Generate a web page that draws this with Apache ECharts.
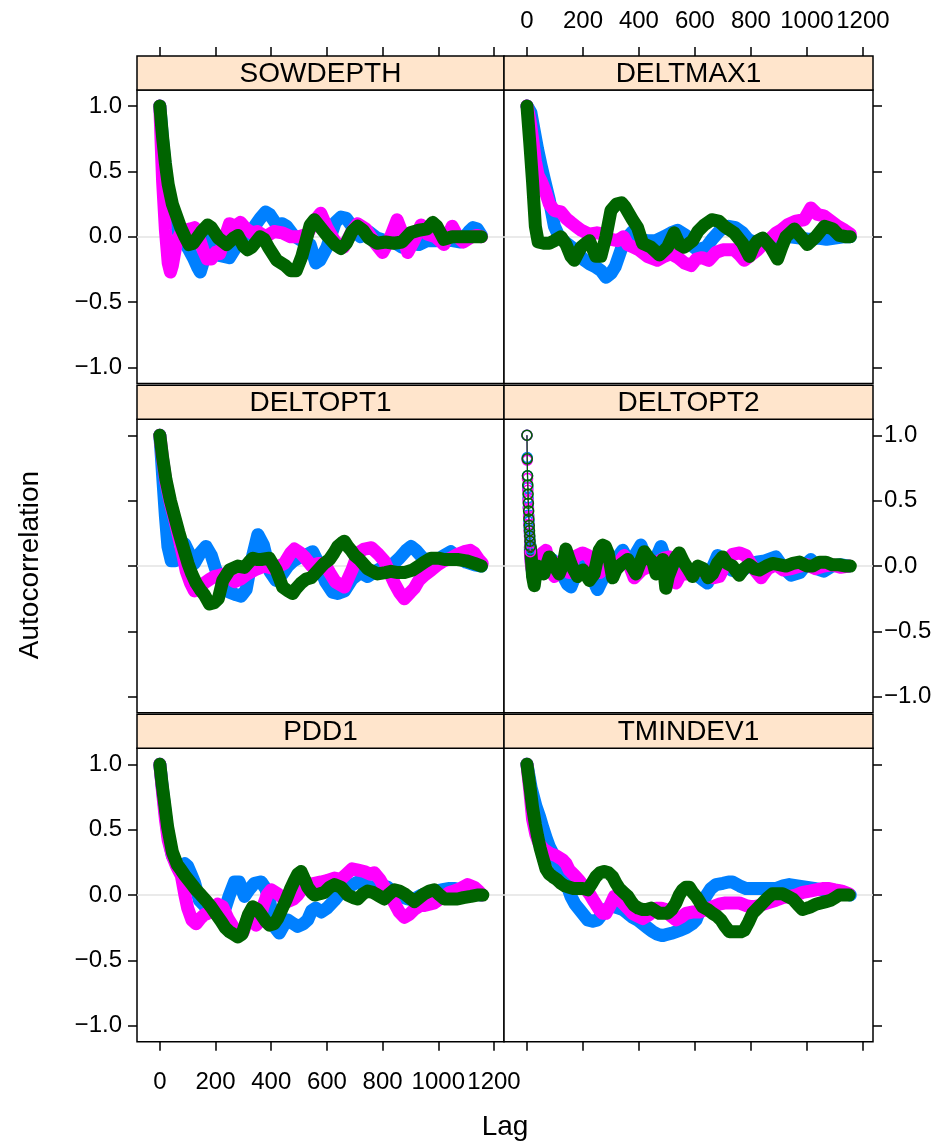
<!DOCTYPE html>
<html><head><meta charset="utf-8">
<script src="https://cdn.jsdelivr.net/npm/echarts@6/dist/echarts.min.js"></script>
<style>html,body{margin:0;padding:0;background:#fff}#c{width:952px;height:1144px}</style>
</head><body><div id="c"></div>
<script>
// ---------------- data (lag, autocorrelation) ----------------
const PANELS = ['SOWDEPTH', 'DELTMAX1', 'DELTOPT1', 'DELTOPT2', 'PDD1', 'TMINDEV1'];
const X_TICKS = [0, 200, 400, 600, 800, 1000, 1200];
const Y_TICKS = [-1, -0.5, 0, 0.5, 1];
const COLORS = ['#0080ff', '#ff00ff', '#006400'];

const SOW_BLUE = [[0,1.0],[10,0.74],[20,0.52],[30,0.36],[45,0.2],[60,0.06],[75,0.0],[90,-0.05],[105,-0.1],[120,-0.16],[135,-0.23],[145,-0.27],[155,-0.2],[165,-0.08],[175,-0.02],[190,-0.06],[210,-0.14],[230,-0.15],[250,-0.16],[270,-0.09],[300,0.0],[330,0.05],[360,0.14],[380,0.19],[395,0.17],[420,0.09],[440,0.1],[455,0.08],[480,0.01],[510,-0.03],[540,-0.06],[560,-0.2],[575,-0.18],[600,-0.08],[630,0.11],[650,0.15],[670,0.14],[690,0.08],[720,0.0],[750,0.04],[780,-0.01],[810,-0.03],[840,-0.04],[870,-0.08],[900,-0.05],[930,-0.06],[960,-0.03],[990,-0.03],[1020,-0.01],[1050,-0.03],[1080,-0.04],[1110,0.04],[1125,0.07],[1140,0.06],[1155,0.01]];
const SOW_MAGENTA = [[0,1.0],[5,0.7],[10,0.42],[20,0.05],[30,-0.2],[38,-0.27],[45,-0.22],[60,-0.04],[75,0.03],[90,0.05],[110,0.06],[125,0.07],[140,0.0],[155,-0.1],[170,-0.17],[185,-0.17],[200,-0.12],[215,-0.13],[230,-0.03],[250,0.1],[270,0.08],[290,0.11],[310,0.06],[330,0.03],[350,0.04],[380,0.0],[410,0.04],[440,0.03],[470,0.0],[500,0.0],[530,0.02],[555,0.12],[578,0.18],[600,0.07],[630,-0.04],[660,-0.08],[690,0.04],[710,0.1],[740,0.06],[770,-0.04],[800,-0.12],[825,-0.02],[852,0.13],[870,0.03],[890,-0.12],[910,-0.04],[938,0.09],[960,0.02],[990,0.0],[1020,-0.06],[1050,0.08],[1070,0.0],[1090,-0.04],[1120,0.0],[1140,0.01],[1155,0.0]];
const SOW_GREEN = [[0,1.0],[10,0.76],[20,0.56],[30,0.4],[45,0.25],[60,0.16],[75,0.07],[90,0.0],[105,-0.06],[120,-0.05],[150,0.04],[172,0.09],[185,0.07],[210,-0.01],[240,-0.06],[265,-0.01],[280,0.01],[300,-0.07],[315,-0.1],[330,-0.08],[360,0.0],[375,-0.02],[390,-0.08],[420,-0.18],[450,-0.22],[470,-0.26],[490,-0.26],[510,-0.15],[525,-0.03],[540,0.09],[555,0.13],[570,0.09],[600,0.01],[630,-0.06],[650,-0.09],[670,-0.05],[690,0.04],[710,0.08],[730,0.05],[750,-0.01],[780,-0.05],[810,-0.04],[840,-0.05],[870,-0.04],[900,0.03],[930,0.05],[960,0.06],[980,0.11],[995,0.08],[1020,-0.02],[1050,0.0],[1080,0.0],[1110,0.0],[1140,0.0],[1155,0.0]];

const DMX_BLUE = [[0,1.0],[14,0.95],[25,0.82],[38,0.67],[50,0.55],[62,0.44],[80,0.28],[98,0.08],[115,0.0],[135,-0.04],[160,-0.08],[185,-0.13],[205,-0.18],[225,-0.21],[245,-0.23],[265,-0.26],[282,-0.31],[300,-0.28],[315,-0.23],[336,-0.1],[360,0.0],[377,0.04],[400,-0.02],[430,-0.03],[460,-0.03],[490,0.0],[515,0.03],[538,0.05],[568,0.01],[590,-0.07],[610,-0.1],[640,-0.08],[665,-0.01],[690,0.05],[720,0.08],[745,0.07],[770,0.03],[790,-0.02],[820,-0.05],[850,-0.03],[880,-0.02],[910,0.0],[940,0.0],[975,-0.01],[1010,-0.02],[1040,-0.01],[1070,-0.02],[1100,-0.01],[1130,0.0],[1155,0.0]];
const DMX_MAGENTA = [[0,1.0],[10,0.9],[20,0.75],[30,0.58],[40,0.47],[50,0.43],[65,0.35],[80,0.25],[98,0.2],[121,0.19],[140,0.14],[157,0.11],[175,0.08],[193,0.05],[222,0.02],[250,0.03],[275,0.02],[300,-0.02],[324,-0.03],[345,0.0],[360,-0.06],[380,-0.08],[400,-0.1],[430,-0.15],[465,-0.18],[490,-0.15],[514,-0.13],[540,-0.16],[562,-0.2],[586,-0.22],[605,-0.17],[625,-0.16],[650,-0.18],[675,-0.12],[700,-0.1],[740,-0.1],[760,-0.14],[776,-0.18],[800,-0.14],[824,-0.1],[850,-0.04],[871,-0.01],[890,0.03],[907,0.05],[930,0.09],[960,0.12],[990,0.13],[1014,0.22],[1038,0.17],[1060,0.16],[1085,0.12],[1110,0.08],[1135,0.05],[1155,0.02]];
const DMX_GREEN = [[0,1.0],[10,0.72],[20,0.42],[30,0.08],[40,-0.04],[60,-0.05],[80,-0.05],[98,-0.03],[121,0.0],[140,-0.06],[157,-0.15],[169,-0.18],[193,-0.08],[210,-0.05],[223,-0.03],[246,-0.15],[264,-0.15],[282,0.0],[300,0.2],[320,0.25],[338,0.26],[350,0.23],[377,0.13],[395,0.07],[413,-0.05],[443,-0.08],[473,-0.14],[502,-0.08],[526,0.03],[545,-0.06],[562,-0.08],[592,-0.03],[610,0.04],[633,0.09],[660,0.13],[685,0.12],[705,0.08],[740,0.03],[770,-0.05],[794,-0.15],[810,-0.07],[824,-0.03],[842,-0.01],[871,-0.08],[895,-0.17],[910,-0.08],[925,0.0],[955,0.06],[979,0.0],[1002,-0.06],[1032,0.0],[1062,0.08],[1092,0.06],[1115,0.01],[1140,0.0],[1155,0.0]];

const DO1_BLUE = [[0,1.0],[6,0.82],[11,0.66],[20,0.38],[29,0.15],[41,0.04],[55,0.04],[70,0.1],[89,0.17],[105,0.1],[124,0.02],[145,0.1],[166,0.15],[185,0.08],[200,-0.02],[220,-0.11],[250,-0.2],[275,-0.22],[292,-0.23],[310,-0.18],[330,0.05],[352,0.24],[372,0.16],[395,-0.04],[417,-0.11],[440,-0.06],[460,0.0],[480,0.04],[505,0.07],[530,0.09],[549,0.11],[570,0.02],[595,-0.12],[620,-0.2],[639,-0.21],[663,-0.19],[690,-0.1],[720,-0.05],[746,-0.08],[775,-0.04],[800,-0.01],[830,0.0],[860,0.06],[885,0.12],[902,0.15],[920,0.12],[945,0.06],[975,0.04],[1000,0.05],[1020,0.08],[1045,0.11],[1070,0.07],[1100,0.03],[1130,0.01],[1155,0.0]];
const DO1_MAGENTA = [[0,1.0],[10,0.82],[22,0.64],[38,0.48],[53,0.36],[68,0.22],[83,0.08],[95,-0.04],[110,-0.13],[124,-0.19],[140,-0.17],[160,-0.13],[180,-0.1],[196,-0.08],[215,-0.07],[232,-0.06],[250,-0.09],[268,-0.12],[290,-0.1],[315,-0.06],[340,-0.03],[376,0.0],[410,-0.02],[447,0.02],[470,0.1],[483,0.13],[505,0.1],[519,0.07],[545,0.0],[570,0.02],[591,0.02],[610,-0.05],[630,-0.12],[663,-0.16],[690,-0.03],[712,0.1],[734,0.13],[760,0.14],[785,0.09],[806,0.04],[825,-0.05],[842,-0.13],[860,-0.2],[878,-0.25],[900,-0.2],[914,-0.17],[930,-0.11],[950,-0.07],[975,-0.03],[998,0.01],[1020,0.04],[1045,0.06],[1070,0.09],[1093,0.11],[1115,0.12],[1129,0.1],[1145,0.05],[1158,0.02]];
const DO1_GREEN = [[0,1.0],[10,0.83],[22,0.66],[38,0.5],[53,0.38],[68,0.26],[83,0.15],[101,0.02],[115,-0.06],[130,-0.13],[145,-0.18],[160,-0.22],[178,-0.29],[195,-0.28],[210,-0.25],[226,-0.11],[250,-0.03],[280,0.0],[304,-0.01],[320,0.03],[334,0.06],[350,0.05],[364,0.05],[393,0.06],[418,-0.03],[441,-0.16],[460,-0.19],[477,-0.21],[490,-0.17],[507,-0.13],[525,-0.1],[543,-0.09],[573,-0.02],[590,0.02],[609,0.05],[625,0.1],[639,0.15],[655,0.18],[663,0.19],[675,0.15],[687,0.12],[700,0.08],[717,0.05],[746,-0.02],[782,-0.06],[810,-0.05],[830,-0.04],[855,-0.05],[878,-0.05],[908,-0.03],[930,0.0],[950,0.03],[974,0.06],[1000,0.06],[1022,0.05],[1050,0.05],[1069,0.05],[1100,0.04],[1130,0.02],[1155,0.0]];

const DO2_BLUE_HEAD = [[0,1.0],[1,0.83],[2,0.69],[3,0.6],[4,0.52],[5,0.45],[6,0.39],[7,0.34],[8,0.29],[9,0.25],[10,0.21],[11,0.17],[12,0.13]];
const DO2_MAGENTA_HEAD = [[0,1.0],[1,0.81],[2,0.67],[3,0.58],[4,0.5],[5,0.44],[6,0.38],[7,0.32],[8,0.27],[9,0.23],[10,0.19],[11,0.15],[12,0.11]];
const DO2_GREEN_HEAD = [[0,1.0],[1,0.82],[2,0.69],[3,0.62],[4,0.55],[5,0.48],[6,0.42],[7,0.36],[8,0.31],[9,0.27],[10,0.23],[11,0.19],[12,0.15]];
const DO2_BLUE = [[12,0.13],[16,0.02],[22,-0.08],[30,-0.06],[44,0.07],[60,0.02],[75,-0.04],[90,0.05],[110,0.0],[130,-0.08],[145,-0.14],[157,-0.16],[175,-0.06],[195,0.03],[215,-0.02],[235,-0.1],[252,-0.18],[270,-0.1],[290,0.0],[315,0.04],[342,0.12],[360,0.05],[385,0.08],[407,0.16],[425,0.06],[445,0.02],[465,0.08],[479,0.15],[495,0.05],[520,0.0],[545,0.02],[570,-0.03],[600,-0.06],[625,-0.1],[645,-0.13],[665,0.0],[681,0.08],[705,0.02],[730,-0.03],[760,-0.05],[790,0.0],[820,0.03],[850,0.04],[889,0.07],[915,-0.01],[943,-0.07],[975,-0.05],[1000,0.02],[1014,0.05],[1035,-0.02],[1060,-0.04],[1090,0.0],[1120,0.01],[1150,0.0]];
const DO2_MAGENTA = [[12,0.11],[16,0.0],[22,-0.06],[30,0.02],[45,0.08],[56,0.1],[68,0.12],[80,0.0],[98,-0.08],[115,0.02],[130,0.05],[150,-0.05],[170,0.07],[199,0.1],[220,0.08],[240,0.0],[260,-0.05],[290,0.02],[320,0.0],[347,0.08],[365,0.01],[383,-0.09],[410,-0.03],[440,0.0],[465,0.03],[490,0.06],[510,0.07],[532,-0.13],[550,-0.06],[580,-0.06],[610,-0.03],[640,-0.05],[665,-0.09],[687,-0.08],[710,0.02],[734,0.09],[760,0.1],[782,0.08],[810,-0.02],[836,-0.09],[860,-0.02],[889,0.01],[915,-0.03],[945,-0.02],[975,0.0],[1000,0.01],[1030,-0.02],[1060,0.0],[1090,0.01],[1120,-0.01],[1150,0.0]];
const DO2_GREEN = [[12,0.15],[16,0.05],[20,-0.08],[26,-0.15],[32,-0.05],[38,0.0],[50,-0.04],[60,-0.06],[80,0.07],[98,0.0],[115,-0.06],[130,0.02],[139,0.13],[150,0.06],[160,0.0],[181,-0.08],[200,-0.03],[223,-0.11],[240,-0.06],[258,0.12],[270,0.16],[280,0.15],[290,0.1],[306,-0.09],[318,-0.03],[335,0.01],[360,0.05],[389,-0.06],[405,0.03],[419,0.11],[435,0.06],[450,0.03],[461,-0.06],[475,0.0],[485,0.05],[496,-0.17],[505,-0.08],[514,-0.03],[530,0.06],[544,0.1],[560,0.03],[575,-0.02],[592,-0.08],[610,0.0],[630,-0.02],[647,-0.09],[663,-0.06],[680,0.02],[699,0.07],[715,0.02],[734,0.0],[758,-0.07],[775,-0.02],[794,0.01],[812,-0.02],[830,-0.03],[855,0.0],[877,0.02],[900,0.01],[925,0.0],[950,0.02],[973,0.03],[1000,0.0],[1020,0.0],[1045,0.03],[1068,0.03],[1090,0.01],[1115,0.01],[1140,0.0],[1155,0.0]];

const PDD_BLUE = [[0,1.0],[10,0.8],[20,0.62],[30,0.45],[45,0.3],[60,0.24],[77,0.22],[90,0.24],[100,0.22],[112,0.16],[124,0.1],[142,-0.04],[160,-0.08],[180,-0.1],[200,-0.12],[220,-0.12],[235,-0.1],[250,0.0],[268,0.1],[285,0.1],[304,-0.01],[320,0.04],[340,0.09],[364,0.1],[380,0.05],[395,-0.05],[411,-0.24],[429,-0.29],[445,-0.23],[459,-0.19],[480,-0.22],[495,-0.24],[515,-0.22],[531,-0.19],[545,-0.12],[560,-0.1],[580,-0.13],[600,-0.1],[627,-0.04],[650,0.02],[675,0.06],[711,0.1],[740,0.07],[765,0.06],[790,0.08],[818,0.06],[840,0.02],[866,-0.01],[890,-0.03],[914,-0.03],[940,0.0],[962,0.01],[985,0.02],[1010,0.04],[1040,0.05],[1060,0.05],[1080,0.04],[1105,0.03],[1130,0.01],[1155,0.0]];
const PDD_MAGENTA = [[0,1.0],[10,0.78],[20,0.58],[30,0.42],[45,0.3],[60,0.22],[77,0.15],[90,0.0],[100,-0.1],[115,-0.19],[130,-0.22],[145,-0.18],[160,-0.15],[172,-0.14],[190,-0.1],[208,-0.07],[226,-0.09],[245,-0.18],[265,-0.25],[285,-0.3],[300,-0.28],[316,-0.17],[330,-0.15],[346,-0.23],[358,-0.2],[370,-0.09],[385,0.0],[400,0.04],[423,0.01],[440,-0.02],[459,-0.05],[480,-0.03],[495,0.0],[515,0.06],[531,0.08],[555,0.09],[579,0.1],[600,0.11],[627,0.13],[650,0.12],[670,0.16],[690,0.2],[712,0.19],[734,0.18],[755,0.16],[770,0.17],[790,0.12],[806,0.06],[825,0.0],[842,-0.06],[860,-0.13],[878,-0.17],[895,-0.15],[914,-0.11],[935,-0.08],[950,-0.08],[986,-0.06],[1005,-0.03],[1022,-0.01],[1040,0.02],[1057,0.03],[1080,0.05],[1105,0.08],[1129,0.06],[1145,0.03],[1158,0.0]];
const PDD_GREEN = [[0,1.0],[8,0.85],[16,0.72],[28,0.52],[45,0.33],[63,0.23],[77,0.19],[90,0.15],[112,0.09],[130,0.04],[148,0.0],[165,-0.04],[184,-0.09],[200,-0.14],[220,-0.2],[235,-0.25],[250,-0.28],[265,-0.3],[280,-0.32],[295,-0.3],[304,-0.24],[318,-0.15],[334,-0.09],[350,-0.11],[364,-0.15],[380,-0.2],[394,-0.23],[410,-0.22],[423,-0.18],[440,-0.1],[453,-0.04],[468,0.04],[483,0.11],[495,0.16],[507,0.18],[520,0.12],[531,0.06],[545,0.02],[555,0.0],[575,0.01],[591,0.02],[610,0.06],[627,0.08],[651,0.06],[675,0.0],[695,-0.02],[711,-0.03],[730,0.01],[746,0.03],[765,0.02],[782,0.0],[806,-0.03],[825,0.01],[842,0.04],[860,0.03],[878,0.01],[896,-0.02],[914,-0.05],[932,-0.02],[950,0.01],[968,0.03],[986,0.04],[1005,0.0],[1022,-0.03],[1045,-0.03],[1069,-0.03],[1090,-0.02],[1117,-0.01],[1140,0.0],[1160,0.0]];

const TMD_BLUE = [[0,1.0],[15,0.82],[32,0.68],[45,0.6],[56,0.52],[68,0.44],[80,0.37],[92,0.32],[104,0.27],[115,0.22],[127,0.17],[142,0.08],[157,-0.01],[172,-0.07],[187,-0.11],[202,-0.15],[217,-0.19],[235,-0.2],[252,-0.19],[267,-0.15],[282,-0.11],[297,-0.09],[312,-0.09],[327,-0.1],[342,-0.11],[360,-0.14],[377,-0.17],[395,-0.19],[413,-0.22],[431,-0.25],[449,-0.28],[466,-0.3],[484,-0.31],[502,-0.3],[520,-0.29],[545,-0.27],[568,-0.25],[590,-0.22],[604,-0.19],[620,-0.1],[639,-0.01],[657,0.05],[675,0.08],[700,0.09],[720,0.1],[734,0.1],[760,0.07],[782,0.05],[810,0.05],[829,0.05],[860,0.05],[889,0.05],[915,0.07],[937,0.08],[966,0.07],[996,0.06],[1026,0.05],[1056,0.04],[1085,0.04],[1115,0.03],[1140,0.01],[1155,0.0]];
const TMD_MAGENTA = [[0,1.0],[10,0.8],[20,0.58],[32,0.46],[44,0.39],[60,0.35],[80,0.32],[104,0.3],[127,0.27],[140,0.24],[151,0.19],[170,0.15],[187,0.11],[205,0.06],[223,0.01],[240,-0.05],[258,-0.11],[270,-0.14],[282,-0.14],[297,-0.08],[312,-0.01],[327,-0.03],[342,-0.06],[360,-0.1],[377,-0.14],[395,-0.16],[413,-0.18],[437,-0.15],[461,-0.1],[480,-0.1],[496,-0.11],[514,-0.16],[532,-0.19],[550,-0.17],[568,-0.14],[590,-0.13],[615,-0.13],[640,-0.11],[663,-0.09],[686,-0.07],[710,-0.06],[734,-0.06],[758,-0.06],[782,-0.08],[806,-0.09],[830,-0.08],[860,-0.06],[889,-0.04],[913,-0.02],[937,-0.01],[960,0.0],[985,0.02],[1010,0.03],[1032,0.04],[1056,0.05],[1079,0.05],[1100,0.04],[1125,0.03],[1150,0.01]];
const TMD_GREEN = [[0,1.0],[10,0.84],[20,0.67],[30,0.54],[38,0.45],[47,0.36],[56,0.29],[68,0.2],[80,0.16],[92,0.14],[106,0.12],[121,0.09],[136,0.07],[151,0.06],[166,0.05],[181,0.05],[199,0.05],[217,0.04],[232,0.09],[246,0.14],[261,0.17],[276,0.18],[291,0.17],[306,0.14],[318,0.09],[330,0.05],[345,0.02],[360,-0.01],[372,-0.05],[383,-0.08],[398,-0.1],[413,-0.11],[428,-0.11],[443,-0.1],[458,-0.12],[473,-0.14],[488,-0.14],[502,-0.14],[517,-0.11],[532,-0.06],[544,0.0],[556,0.04],[568,0.06],[580,0.06],[592,0.02],[604,-0.01],[616,-0.05],[627,-0.09],[645,-0.11],[663,-0.14],[678,-0.16],[693,-0.19],[708,-0.24],[723,-0.28],[746,-0.28],[765,-0.28],[776,-0.27],[791,-0.21],[806,-0.14],[824,-0.1],[842,-0.06],[860,-0.02],[877,0.01],[895,0.01],[913,0.01],[931,-0.01],[949,-0.03],[966,-0.07],[984,-0.11],[1000,-0.1],[1014,-0.09],[1032,-0.07],[1050,-0.06],[1068,-0.05],[1085,-0.04],[1100,-0.02],[1115,0.0],[1135,0.0],[1151,0.0]];

const PANEL_SERIES = [
  [SOW_BLUE, SOW_MAGENTA, SOW_GREEN],
  [DMX_BLUE, DMX_MAGENTA, DMX_GREEN],
  [DO1_BLUE, DO1_MAGENTA, DO1_GREEN],
  [DO2_BLUE, DO2_MAGENTA, DO2_GREEN],
  [PDD_BLUE, PDD_MAGENTA, PDD_GREEN],
  [TMD_BLUE, TMD_MAGENTA, TMD_GREEN]
];
const PANEL_HEADS = { 3: [DO2_BLUE_HEAD, DO2_MAGENTA_HEAD, DO2_GREEN_HEAD] };

// ---------------- layout ----------------
const FONT = '"Liberation Sans", Arial, Helvetica, sans-serif';
const COL_LEFT = [137, 504];
const COL_W = [367, 369];
const ROW_TOP = [90, 419.3, 748.3];
const PLOT_H = 293.5;
const STRIP_H = 34;
const X_MIN = -82, X_MAX = 1236;
const Y_MIN = -1.122, Y_MAX = 1.122;

const grids = [], xAxes = [], yAxes = [], series = [], graphics = [];
const fmtY = v => (v < 0 ? '\u2212' : '') + Math.abs(v).toFixed(1);
const fmtX = v => String(Math.round(v));

PANELS.forEach((name, i) => {
  const row = Math.floor(i / 2), col = i % 2;
  const left = COL_LEFT[col], top = ROW_TOP[row], w = COL_W[col];
  grids.push({ left: left, top: top, width: w, height: PLOT_H, show: true,
    borderColor: '#000', borderWidth: 1.5, backgroundColor: '#fff', containLabel: false });
  const xLab = (row === 0 && col === 1) || (row === 2 && col === 0);
  xAxes.push({ type: 'value', gridIndex: i, min: X_MIN, max: X_MAX,
    position: row === 0 ? 'top' : 'bottom', offset: row === 0 ? STRIP_H : 0,
    axisLine: { show: false, onZero: false }, splitLine: { show: false },
    axisTick: { show: row !== 1, customValues: X_TICKS, length: 9, lineStyle: { color: '#000', width: 1.5 } },
    axisLabel: { show: xLab, customValues: X_TICKS, fontSize: 24, color: '#000', fontFamily: FONT,
      margin: row === 0 ? 23 : 29, hideOverlap: false, formatter: fmtX }
  });
  const yLab = (col === 0 && row !== 1) || (col === 1 && row === 1);
  yAxes.push({ type: 'value', gridIndex: i, min: Y_MIN, max: Y_MAX,
    position: col === 0 ? 'left' : 'right',
    axisLine: { show: false, onZero: false }, splitLine: { show: false },
    axisTick: { show: true, customValues: Y_TICKS, length: 9, lineStyle: { color: '#000', width: 1.5 } },
    axisLabel: { show: yLab, customValues: Y_TICKS, fontSize: 24, color: '#000', fontFamily: FONT,
      margin: col === 0 ? 15 : 11, formatter: fmtY }
  });
  // reference line at 0 (drawn beneath the data)
  series.push({ type: 'line', xAxisIndex: i, yAxisIndex: i, data: [], z: 1, zlevel: 0, silent: true,
    markLine: { silent: true, symbol: ['none', 'none'], label: { show: false }, animation: false,
      lineStyle: { color: '#e3e3e3', width: 1.5, type: 'solid' }, data: [{ yAxis: 0 }] } });
  PANEL_SERIES[i].forEach((d, c) => {
    series.push({ type: 'line', xAxisIndex: i, yAxisIndex: i, data: d, z: 2 + c, zlevel: 1,
      showSymbol: false, symbol: 'none', silent: true,
      lineStyle: { color: COLORS[c], width: 13, cap: 'round', join: 'round' } });
  });
  if (PANEL_HEADS[i]) {
    PANEL_HEADS[i].forEach((d, c) => {
      series.push({ type: 'line', xAxisIndex: i, yAxisIndex: i, data: d, z: 6 + c, zlevel: 1,
        showSymbol: true, showAllSymbol: true, symbol: 'circle', symbolSize: 10, silent: true,
        lineStyle: { color: COLORS[c], width: 1.2 },
        itemStyle: { color: 'rgba(255,255,255,0)', borderColor: COLORS[c], borderWidth: 1.6 } });
    });
  }
  // strip
  graphics.push({ type: 'rect', shape: { x: left, y: top - STRIP_H, width: w, height: STRIP_H },
    style: { fill: '#ffe5cc', stroke: '#000', lineWidth: 1.5 }, z: 10 });
  graphics.push({ type: 'text', x: left + w / 2, y: top - STRIP_H / 2 + 1, z: 11,
    style: { text: name, fontSize: 28, fontFamily: FONT, fill: '#000', align: 'center', verticalAlign: 'middle' } });
});

graphics.push({ type: 'text', x: 30, y: 565, rotation: Math.PI / 2, z: 11,
  style: { text: 'Autocorrelation', fontSize: 28, fontFamily: FONT, fill: '#000', align: 'center', verticalAlign: 'middle' } });
graphics.push({ type: 'text', x: 505, y: 1127, z: 11,
  style: { text: 'Lag', fontSize: 28, fontFamily: FONT, fill: '#000', align: 'center', verticalAlign: 'middle' } });

const chart = echarts.init(document.getElementById('c'), null, { renderer: 'canvas' });
chart.setOption({
  animation: false,
  backgroundColor: '#fff',
  textStyle: { fontFamily: FONT },
  grid: grids, xAxis: xAxes, yAxis: yAxes, series: series, graphic: graphics
});
</script></body></html>
